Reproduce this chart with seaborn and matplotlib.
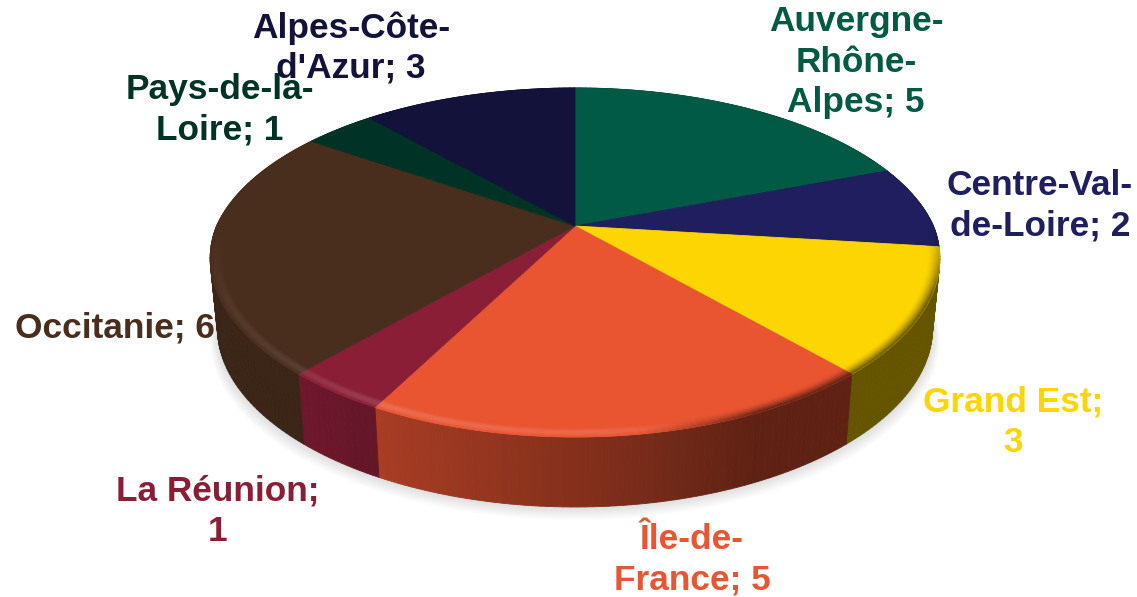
import numpy as np
import matplotlib
matplotlib.use("Agg")
import matplotlib.pyplot as plt
import seaborn as sns
from matplotlib.collections import PolyCollection
from matplotlib.path import Path
from matplotlib.transforms import Affine2D, Transform

# -----------------------------
# Data
# -----------------------------

regions = ["Auvergne-\nRhône-\nAlpes", "Centre-Val-\nde-Loire", "Grand Est;\n", "Île-de-\nFrance",
           "La Réunion;\n", "Occitanie", "Pays-de-la-\nLoire", "Alpes-Côte-\nd'Azur"]
counts = [5, 2, 3, 5, 1, 6, 1, 3]
top_colors = ["#005a44", "#1f1f5e", "#fdd500", "#e95431", "#8a1e36", "#4a2e1d", "#003325", "#12123a"]

# -----------------------------
# Layout and shading
# -----------------------------

W, H = 1137, 597
CX, CY = 575, 226
A, B, K = 358.5, 166.9, 0.209
DEPTH = 70
label_xy = [(856, 62), (1040, 206), (1013, 422), (692, 560), (218, 511), (115, 328), (220, 110), (351, 48)]


def project(u, v):
    den = 1 + K * v
    pinch = 1 + 0.024 * np.minimum(v, 0)
    return CX + A * u * pinch / den, CY - B * v / den


class Tilt(Transform):
    input_dims = output_dims = 2

    def transform_non_affine(self, values):
        x, y = project(values[:, 0], values[:, 1])
        return np.column_stack([x, y])

    def transform_path_non_affine(self, path):
        big = path.transformed(Affine2D().scale(1000))
        poly = big.to_polygons(closed_only=False)[0] / 1000
        return Path(self.transform_non_affine(poly))


def wall_shade(x):
    return np.interp(x, [210, 300, 380, 640, 760, 940], [0.8, 0.8, 0.72, 0.52, 0.4, 0.4])


def glow_amount(x):
    return np.interp(x, [210, 300, 380, 620, 700], [0.04, 0.09, 0.15, 0.12, 0.0])


sns.set_theme(style="white")
fig = plt.figure(figsize=(W / 100, H / 100), dpi=100, facecolor="white")
ax = fig.add_axes([0, 0, 1, 1])

palette = sns.color_palette(top_colors)
wedges, _ = ax.pie(counts, colors=palette, startangle=90, counterclock=False,
                   wedgeprops={"linewidth": 0.6, "zorder": 3})
tilt = Tilt()
for w, c in zip(wedges, palette):
    w.set_transform(tilt + ax.transData)
    w.set_edgecolor(c)

ax.set_aspect("auto")
ax.set_xlim(0, W)
ax.set_ylim(H, 0)
ax.axis("off")

# soft shadow under the pie
t = np.radians(np.linspace(0, 360, 240))
for d in np.arange(16, 0, -2):
    sx, sy = project(np.cos(t), np.sin(t))
    sx = CX + (sx - CX) * (0.98 + d * 0.0012)
    ax.fill(sx, sy + DEPTH + d * 0.8, color="#000000", alpha=0.016, lw=0, zorder=1)

# side wall and bevel for each slice
for w, c in zip(wedges, palette):
    base = np.array(c)
    n = max(int(abs(w.theta2 - w.theta1)), 2)
    th = np.radians(np.linspace(w.theta1, w.theta2, n + 1))
    x0, y0 = project(np.cos(th), np.sin(th))
    x1 = CX + (x0 - CX) * 0.98
    y1 = y0 + DEPTH

    quads, cols = [], []
    for i in range(n):
        quads.append([(x0[i], y0[i]), (x0[i + 1], y0[i + 1]), (x1[i + 1], y1[i + 1]), (x1[i], y1[i])])
        cols.append(base * wall_shade((x0[i] + x0[i + 1]) / 2))
    ax.add_collection(PolyCollection(quads, facecolors=cols, edgecolors=cols, linewidths=0.6, zorder=2))

    rim_q, rim_c = [], []
    radii = np.linspace(0.968, 1.0, 9)
    for j in range(len(radii) - 1):
        rm = (radii[j] + radii[j + 1]) / 2
        s = (rm - radii[0]) / (radii[-1] - radii[0])
        xa, ya = project(radii[j] * np.cos(th), radii[j] * np.sin(th))
        xb, yb = project(radii[j + 1] * np.cos(th), radii[j + 1] * np.sin(th))
        for i in range(n):
            if np.sin(th[i]) > -0.02:
                continue
            xm = (xa[i] + xa[i + 1]) / 2
            # light on the left of the front edge, dark towards the right
            dark = np.clip((xm - 640) / 120, 0, 1)
            fade = np.clip(-np.sin(th[i]) / 0.4, 0, 1)
            wall = base * wall_shade(xm)
            glow = np.sin(np.pi * s) * glow_amount(xm) * fade
            col = base + (1 - base) * glow
            col = col * (1 - dark * fade * s ** 1.5) + wall * dark * fade * s ** 1.5
            rim_q.append([(xa[i], ya[i]), (xa[i + 1], ya[i + 1]), (xb[i + 1], yb[i + 1]), (xb[i], yb[i])])
            rim_c.append(np.clip(col, 0, 1))
    if rim_q:
        ax.add_collection(PolyCollection(rim_q, facecolors=rim_c, edgecolors=rim_c, linewidths=0.4, zorder=4))

# -----------------------------
# Labels
# -----------------------------

for name, n, xy, c in zip(regions, counts, label_xy, palette):
    if name.endswith("\n"):
        text = f"{name}{n}"
    else:
        text = f"{name}; {n}"
    ax.text(xy[0], xy[1], text, color=c, ha="center", va="center", family="Liberation Sans",
            fontweight="bold", fontsize=25.4, linespacing=1.28, zorder=5)

fig.savefig("out.png", dpi=100, facecolor="white")
